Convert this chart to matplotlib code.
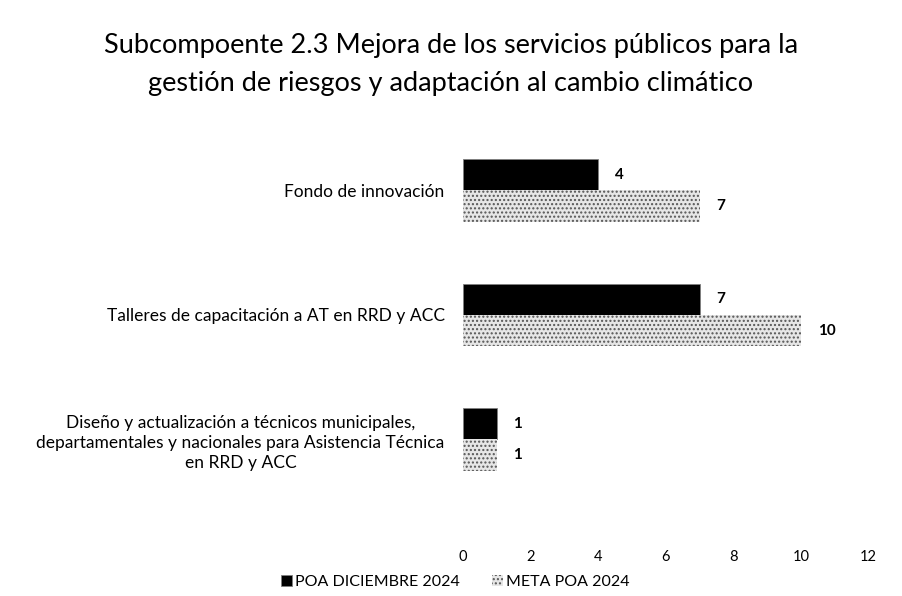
import matplotlib.pyplot as plt
import numpy as np

plt.rcParams['font.family'] = ['Lato', 'DejaVu Sans']

categorias = [
    "Fondo de innovación",
    "Talleres de capacitación a AT en RRD y ACC",
    "Diseño y actualización a técnicos municipales,\n"
    "departamentales y nacionales para Asistencia Técnica\n"
    "en RRD y ACC",
]
poa_dic_2024 = [4, 7, 1]
meta_poa_2024 = [7, 10, 1]
ticks_x = [0, 2, 4, 6, 8, 10, 12]

fig = plt.figure(figsize=(9.02, 5.96), dpi=100)
ax = fig.add_axes([0.513, 0.085, 0.45, 0.70])

y = np.arange(len(categorias))
h = 0.25

b1 = ax.barh(y - h / 2, poa_dic_2024, height=h, color="black",
             edgecolor="#808080", linewidth=0.6, label="POA DICIEMBRE 2024")
b2 = ax.barh(y + h / 2, meta_poa_2024, height=h, color="#e6e6e6",
             edgecolor="#555555", hatch="....", linewidth=0, label="META POA 2024")

for bars, vals in ((b1, poa_dic_2024), (b2, meta_poa_2024)):
    for bar, v in zip(bars, vals):
        ax.text(bar.get_width() + 0.5, bar.get_y() + bar.get_height() / 2, str(v),
                va="center", ha="left", fontsize=11, fontweight="bold", color="black")

ax.set_yticks(y)
ax.set_yticklabels(categorias, fontsize=12.5, multialignment="center", linespacing=1.3)
ax.set_ylim(2.85, -0.5)
ax.set_xlim(0, 12)
ax.set_xticks(ticks_x)
ax.tick_params(axis="x", labelsize=10.5, length=0, pad=3)
ax.tick_params(axis="y", length=0, pad=13)
for s in ax.spines.values():
    s.set_visible(False)

fig.suptitle("Subcompoente 2.3 Mejora de los servicios públicos para la\n"
             "gestión de riesgos y adaptación al cambio climático",
             fontsize=19.5, y=0.945, linespacing=1.65)

fig.legend(handles=[b1, b2], loc="lower center", bbox_to_anchor=(0.505, -0.012),
           ncol=2, frameon=False, fontsize=11.5, handlelength=0.7, handleheight=0.7,
           handletextpad=0.2, columnspacing=2.0)

fig.savefig("out.png", dpi=100)
